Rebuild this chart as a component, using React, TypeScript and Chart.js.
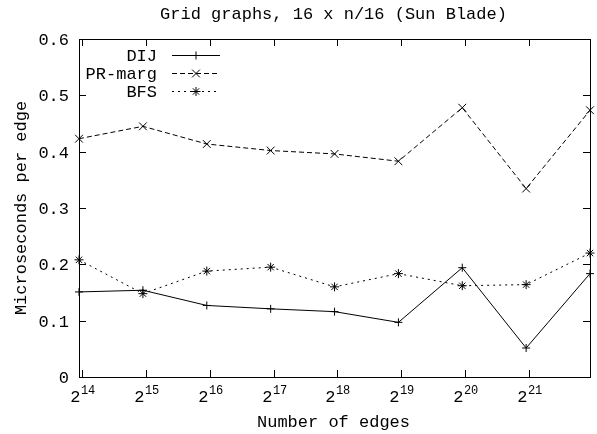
import React, { useEffect, useRef } from "react";
import { Chart, registerables } from "chart.js";

Chart.register(...registerables);

const titleText = "Grid graphs, 16 x n/16 (Sun Blade)";
const xTitle = "Number of edges";
const yTitle = "Microseconds per edge";

const edges = [15856, 31728, 63472, 126960, 253936, 507888, 1015792, 2031600, 4063216];
const dij = [0.151, 0.154, 0.127, 0.121, 0.116, 0.097, 0.194, 0.0515, 0.1835];
const prMarg = [0.423, 0.445, 0.4136, 0.402, 0.396, 0.383, 0.478, 0.3345, 0.4735];
const bfs = [0.208, 0.148, 0.188, 0.195, 0.16, 0.1835, 0.162, 0.164, 0.22];

const xTickExponents = [14, 15, 16, 17, 18, 19, 20, 21];
const yTicks = [0, 0.1, 0.2, 0.3, 0.4, 0.5, 0.6];
const yTickLabels = ["0", "0.1", "0.2", "0.3", "0.4", "0.5", "0.6"];

const seriesNames = ["DIJ", "PR-marg", "BFS"];
const seriesValues = [dij, prMarg, bfs];
const seriesStyles = ["cross", "crossRot", "star"];
const seriesDash = [[], [5, 3], [2, 4]];
const seriesRadius = [4, 5.5, 4.5];

const FONT = '"Liberation Mono", "DejaVu Sans Mono", monospace';

function drawMarker(ctx: CanvasRenderingContext2D, style: string, x: number, y: number, r: number) {
  ctx.beginPath();
  if (style === "cross" || style === "star") {
    ctx.moveTo(x - r, y);
    ctx.lineTo(x + r, y);
    ctx.moveTo(x, y - r);
    ctx.lineTo(x, y + r);
  }
  if (style === "crossRot" || style === "star") {
    const d = r * Math.SQRT1_2;
    ctx.moveTo(x - d, y - d);
    ctx.lineTo(x + d, y + d);
    ctx.moveTo(x - d, y + d);
    ctx.lineTo(x + d, y - d);
  }
  ctx.stroke();
}

const gnuplotDecor = {
  id: "gnuplotDecor",
  afterDraw(chart: any) {
    const ctx: CanvasRenderingContext2D = chart.ctx;
    const { left, right, top, bottom } = chart.chartArea;
    const xs = chart.scales.x;
    const ys = chart.scales.y;
    ctx.save();
    ctx.strokeStyle = "#000";
    ctx.fillStyle = "#000";
    ctx.lineWidth = 1;
    ctx.setLineDash([]);
    // frame
    ctx.strokeRect(Math.round(left) + 0.5, Math.round(top) + 0.5, Math.round(right - left), Math.round(bottom - top));
    const tl = 7;
    // y ticks + labels
    ctx.font = `17px ${FONT}`;
    ctx.textAlign = "right";
    ctx.textBaseline = "alphabetic";
    yTicks.forEach((v, i) => {
      const py = Math.round(ys.getPixelForValue(v)) + 0.5;
      ctx.beginPath();
      ctx.moveTo(left, py);
      ctx.lineTo(left + tl, py);
      ctx.moveTo(right, py);
      ctx.lineTo(right - tl, py);
      ctx.stroke();
      ctx.fillText(yTickLabels[i], 69, py + 5.5);
    });
    // x ticks + labels
    xTickExponents.forEach((e) => {
      const px = Math.round(xs.getPixelForValue(Math.pow(2, e))) + 0.5;
      ctx.beginPath();
      ctx.moveTo(px, bottom);
      ctx.lineTo(px, bottom - tl);
      ctx.moveTo(px, top);
      ctx.lineTo(px, top + tl);
      ctx.stroke();
      ctx.font = `17px ${FONT}`;
      const baseW = ctx.measureText("2").width;
      ctx.font = `12px ${FONT}`;
      const expW = ctx.measureText(String(e)).width;
      const start = px - (baseW + expW) / 2;
      ctx.textAlign = "left";
      ctx.font = `17px ${FONT}`;
      ctx.fillText("2", start, 402);
      ctx.font = `12px ${FONT}`;
      ctx.fillText(String(e), start + baseW + 0.5, 393.5);
    });
    // titles
    ctx.font = `17px ${FONT}`;
    ctx.textAlign = "center";
    ctx.fillText(titleText, (left + right) / 2 - 1, 18.5);
    ctx.fillText(xTitle, (left + right) / 2 - 1, 427);
    ctx.save();
    ctx.translate(26, (top + bottom) / 2);
    ctx.rotate(-Math.PI / 2);
    ctx.fillText(yTitle, 0, 0);
    ctx.restore();
    // legend
    seriesNames.forEach((name, i) => {
      const ly = 55 + i * 18;
      ctx.font = `17px ${FONT}`;
      ctx.textAlign = "right";
      ctx.setLineDash([]);
      ctx.fillText(name, 157, ly + 5.5);
      ctx.setLineDash(seriesDash[i]);
      ctx.beginPath();
      ctx.moveTo(172, ly + 0.5);
      ctx.lineTo(220, ly + 0.5);
      ctx.stroke();
      ctx.setLineDash([]);
      drawMarker(ctx, seriesStyles[i], 196, ly + 0.5, seriesRadius[i]);
    });
    ctx.restore();
  },
};

export default function App() {
  const canvasRef = useRef<HTMLCanvasElement | null>(null);
  useEffect(() => {
    if (!canvasRef.current) return;
    const chart = new Chart(canvasRef.current, {
      type: "line",
      data: {
        datasets: seriesNames.map((name, i) => ({
          label: name,
          data: edges.map((e, j) => ({ x: e, y: seriesValues[i][j] })),
          borderColor: "#000",
          backgroundColor: "#000",
          borderWidth: 1,
          borderDash: seriesDash[i],
          pointStyle: seriesStyles[i] as any,
          pointRadius: seriesRadius[i],
          pointBorderWidth: 1,
          pointBorderColor: "#000",
          tension: 0,
          fill: false,
          clip: false as any,
        })),
      },
      options: {
        animation: false,
        responsive: false,
        devicePixelRatio: 1,
        layout: { padding: { left: 79, top: 39, right: 7, bottom: 57 } },
        plugins: { legend: { display: false }, title: { display: false }, tooltip: { enabled: false } },
        scales: {
          x: { type: "logarithmic", min: edges[0], max: edges[edges.length - 1], display: false },
          y: { type: "linear", min: 0, max: 0.6, display: false },
        },
      },
      plugins: [gnuplotDecor],
    });
    return () => chart.destroy();
  }, []);
  return (
    <div style={{ position: "absolute", left: 0, top: 0, width: 597, height: 434, background: "#fff" }}>
      <canvas ref={canvasRef} width={597} height={434} />
    </div>
  );
}
